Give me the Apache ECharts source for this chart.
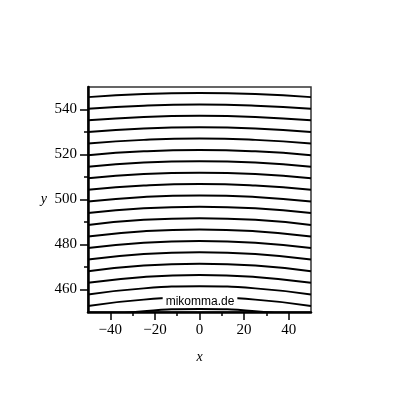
<!DOCTYPE html>
<html>
<head>
<meta charset="utf-8">
<script src="https://cdn.jsdelivr.net/npm/echarts@6/dist/echarts.min.js"></script>
<style>html,body{margin:0;padding:0;background:#fff}#c{width:400px;height:400px}</style>
</head>
<body>
<div id="c"></div>
<script>
// sample x positions where each curve was read
const xs = [-50, -25, 0, 25, 50];
// curve values (y) read at the x positions above, top to bottom
const curve01 = [545.5, 546.85, 547.3, 546.85, 545.5];
const curve02 = [540.3, 541.7, 542.2, 541.7, 540.3];
const curve03 = [535.2, 536.7, 537.2, 536.7, 535.2];
const curve04 = [530.0, 531.6, 532.1, 531.6, 530.0];
const curve05 = [524.9, 526.5, 527.1, 526.5, 524.9];
const curve06 = [519.7, 521.4, 522.0, 521.4, 519.7];
const curve07 = [514.6, 516.4, 517.0, 516.4, 514.6];
const curve08 = [509.4, 511.3, 511.9, 511.3, 509.4];
const curve09 = [504.3, 506.2, 506.9, 506.2, 504.3];
const curve10 = [499.1, 501.1, 501.8, 501.1, 499.1];
const curve11 = [494.0, 496.1, 496.8, 496.1, 494.0];
const curve12 = [488.7, 491.0, 491.7, 491.0, 488.7];
const curve13 = [483.6, 485.9, 486.7, 485.9, 483.6];
const curve14 = [478.4, 480.8, 481.6, 480.8, 478.4];
const curve15 = [473.3, 475.8, 476.6, 475.8, 473.3];
const curve16 = [468.1, 470.7, 471.5, 470.7, 468.1];
const curve17 = [463.0, 465.6, 466.5, 465.6, 463.0];
const curve18 = [457.8, 460.5, 461.4, 460.5, 457.8];
const curve19 = [452.7, 455.5, 456.4, 455.5, 452.7];
const curve20 = [447.5, 450.35, 451.3, 450.35, 447.5];
const curves = [curve01, curve02, curve03, curve04, curve05, curve06, curve07, curve08, curve09, curve10,
  curve11, curve12, curve13, curve14, curve15, curve16, curve17, curve18, curve19, curve20];

const xMajorTicks = [-40, -20, 0, 20, 40];
const xMinorTicks = [-30, -10, 10, 30];
const yMajorTicks = [460, 480, 500, 520, 540];
const yMinorTicks = [470, 490, 510, 530];

const fmt = v => (v < 0 ? '\u2212' + Math.abs(v) : String(v));
const serif = 'Liberation Serif';

const chart = echarts.init(document.getElementById('c'), null, {renderer: 'canvas'});

const series = curves.map(c => ({
  type: 'line',
  xAxisIndex: 0, yAxisIndex: 0,
  data: xs.map((x, i) => [x, c[i]]),
  smooth: 0.5,
  symbol: 'none',
  clip: true,
  silent: true,
  lineStyle: {color: '#000', width: 2},
  z: 2
}));

chart.setOption({
  animation: false,
  backgroundColor: '#fff',
  grid: {left: 88, right: 89, top: 87, bottom: 88, show: true, borderColor: '#333', borderWidth: 1.5, backgroundColor: 'transparent'},
  xAxis: [{
    type: 'value', min: -50, max: 50,
    name: 'x', nameLocation: 'middle', nameGap: 38,
    nameTextStyle: {fontFamily: serif, fontStyle: 'italic', fontSize: 14, color: '#000'},
    axisLine: {show: true, onZero: false, lineStyle: {color: '#000', width: 2.5}},
    axisTick: {show: true, length: 8, customValues: xMajorTicks, lineStyle: {color: '#000', width: 1.5}},
    axisLabel: {customValues: xMajorTicks, formatter: fmt, fontFamily: serif, fontSize: 15, color: '#000', margin: 11},
    splitLine: {show: false}
  }, {
    type: 'value', min: -50, max: 50, position: 'bottom', gridIndex: 0,
    axisLine: {show: false, onZero: false},
    axisTick: {show: true, length: 4, customValues: xMinorTicks, lineStyle: {color: '#000', width: 1.5}},
    axisLabel: {show: false},
    splitLine: {show: false}
  }],
  yAxis: [{
    type: 'value', min: 450, max: 550,
    name: 'y', nameLocation: 'middle', nameGap: 41, nameRotate: 0,
    nameTextStyle: {fontFamily: serif, fontStyle: 'italic', fontSize: 14, color: '#000', padding: [2, 0, 0, 0]},
    axisLine: {show: true, onZero: false, lineStyle: {color: '#000', width: 2.5}},
    axisTick: {show: true, length: 8, customValues: yMajorTicks, lineStyle: {color: '#000', width: 1.5}},
    axisLabel: {customValues: yMajorTicks, formatter: fmt, fontFamily: serif, fontSize: 15, color: '#000', margin: 11},
    splitLine: {show: false}
  }, {
    type: 'value', min: 450, max: 550, position: 'left', gridIndex: 0,
    axisLine: {show: false, onZero: false},
    axisTick: {show: true, length: 4, customValues: yMinorTicks, lineStyle: {color: '#000', width: 1.5}},
    axisLabel: {show: false},
    splitLine: {show: false}
  }],
  series: series,
  graphic: [{
    type: 'text', left: 'center', top: 296, z: 100,
    style: {
      text: 'mikomma.de', fontFamily: 'Liberation Sans', fontSize: 12, fill: '#000',
      backgroundColor: '#fff', padding: [0, 3, 0, 3]
    }
  }]
});
</script>
</body>
</html>
